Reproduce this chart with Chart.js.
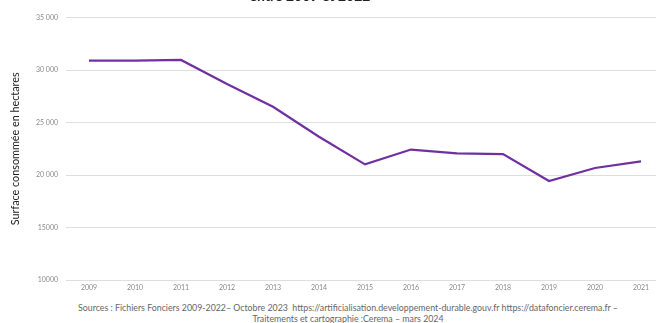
<!DOCTYPE html>
<html>
<head>
<meta charset="utf-8">
<script src="https://cdn.jsdelivr.net/npm/chart.js@4"></script>
<style>
  html, body { margin: 0; padding: 0; background: #fff; width: 656px; height: 323px; overflow: hidden; position: relative; }
  #wrap { position: absolute; left: 0; top: 0; width: 670px; height: 300px; }
  #title { position: absolute; left: 310px; top: -11px; transform: translateX(-50%); font: bold 14px Lato, sans-serif; line-height: 14px; white-space: nowrap; color: #222; }
  #foot { position: absolute; left: 348px; top: 301.5px; transform: translateX(-50%); font: 8.8px Lato, sans-serif; line-height: 11px; color: #666; text-align: center; white-space: nowrap; }
</style>
</head>
<body>
<div id="wrap"><canvas id="c" width="670" height="300"></canvas></div>
<div id="title">entre 2009 et 2022</div>
<div id="foot">Sources : Fichiers Fonciers 2009-2022– Octobre 2023&nbsp; https://artificialisation.developpement-durable.gouv.fr https://datafoncier.cerema.fr –<br>Traitements et cartographie :Cerema – mars 2024</div>
<script>
const years = ["2009","2010","2011","2012","2013","2014","2015","2016","2017","2018","2019","2020","2021"];
const surface = [30900, 30900, 30960, 28660, 26500, 23650, 21020, 22430, 22070, 22000, 19430, 20670, 21310];
const yTickValues = [10000, 15000, 20000, 25000, 30000, 35000];
const yTickLabels = ["10000", "15000", "20 000", "25 000", "30 000", "35 000"];
const yAxisTitle = "Surface consommée en hectares";

new Chart(document.getElementById('c'), {
  type: 'line',
  data: {
    labels: years,
    datasets: [{
      data: surface,
      borderColor: '#7030a0',
      borderWidth: 2.2,
      pointRadius: 0,
      tension: 0,
      fill: false
    }]
  },
  options: {
    responsive: false,
    animation: false,
    layout: { padding: { top: 17.5, bottom: 5.5, right: 6, left: 0 } },
    plugins: { legend: { display: false }, tooltip: { enabled: false } },
    scales: {
      x: {
        offset: true,
        grid: { display: false, drawTicks: false },
        border: { display: false },
        ticks: { color: '#8a8a8a', font: { family: 'Lato', size: 7 }, padding: 3, maxRotation: 0, autoSkip: false }
      },
      y: {
        min: 10000, max: 35000,
        afterBuildTicks: (s) => { s.ticks = yTickValues.map(v => ({ value: v })); },
        afterFit: (s) => { s.width = 66; },
        grid: { color: '#dedede', lineWidth: 1, drawTicks: false },
        border: { display: false },
        ticks: {
          color: '#8a8a8a', font: { family: 'Lato', size: 7 }, padding: 8,
          callback: (v) => { const i = yTickValues.indexOf(v); return i >= 0 ? yTickLabels[i] : ''; }
        },
        title: { display: true, text: yAxisTitle, color: '#222', font: { family: 'Lato', size: 10.8 }, padding: { top: 9.5, bottom: 0 } }
      }
    }
  }
});
</script>
</body>
</html>
